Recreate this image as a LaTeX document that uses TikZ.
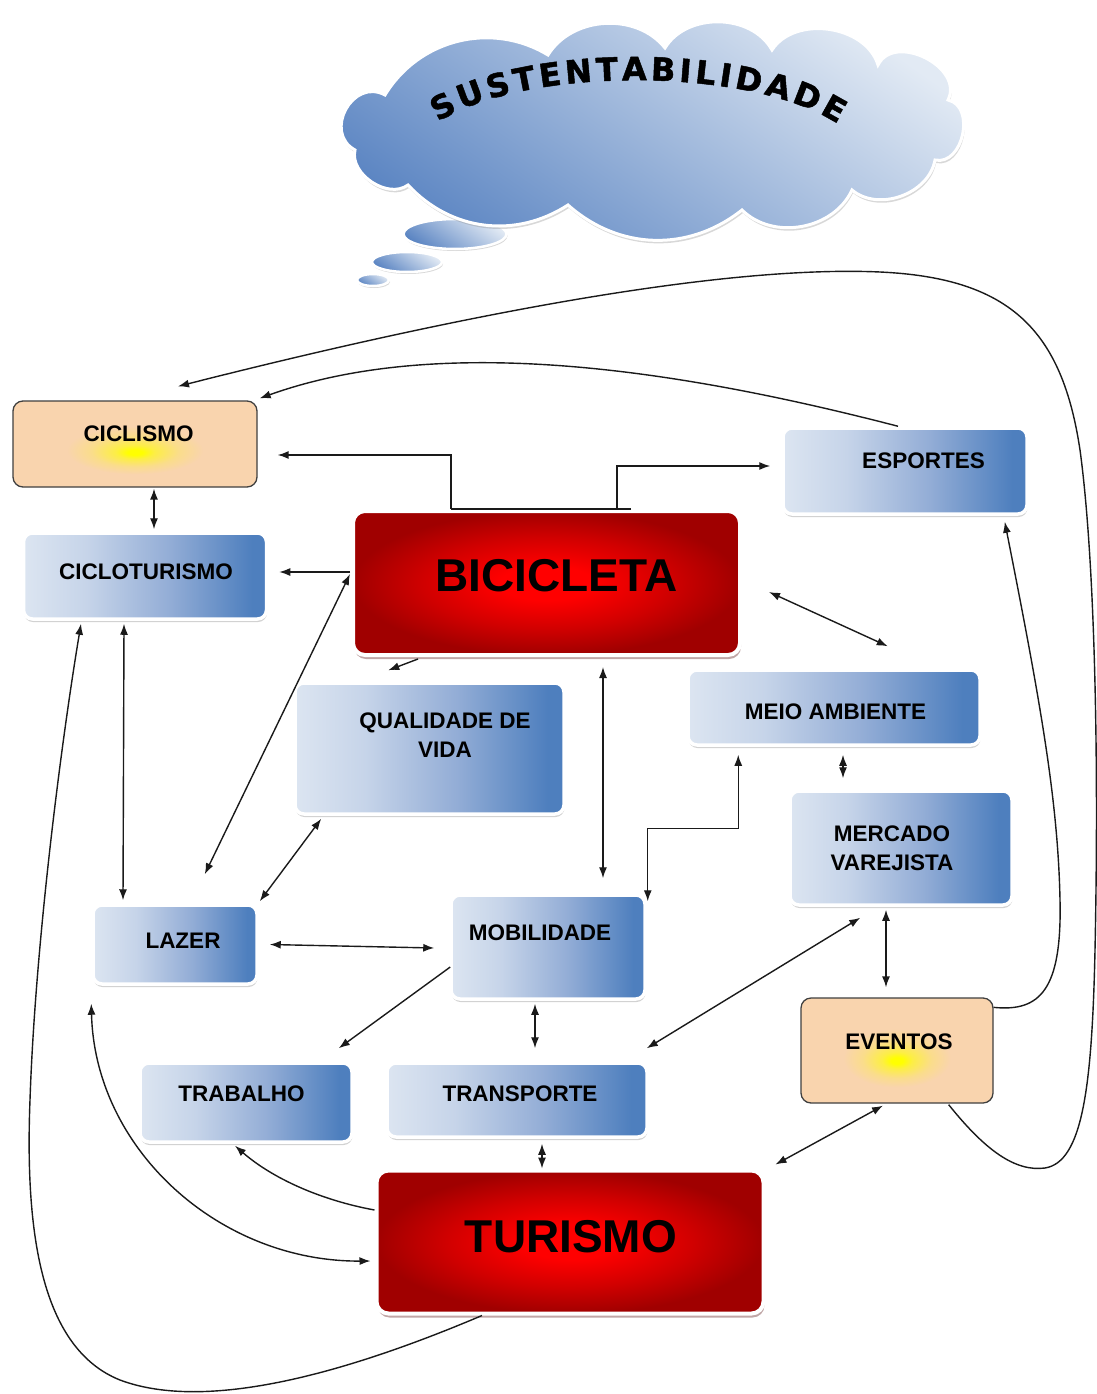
\documentclass[tikz,border=0pt]{standalone}
\usepackage{fontspec}
\setmainfont{Liberation Sans}
\newfontfamily\heavyfont{DejaVu Sans}[BoldFeatures={FakeBold=1.5}]
\usetikzlibrary{arrows.meta,shapes.geometric,shadows,decorations.text,calc}

\definecolor{blueL}{HTML}{DCE5F1}
\definecolor{blueM1}{HTML}{C6D4E9}
\definecolor{blueM2}{HTML}{93ADD6}
\definecolor{blueD}{HTML}{4E7FBE}
\definecolor{redC}{HTML}{FF0000}
\definecolor{redM}{HTML}{D00000}
\definecolor{redD}{HTML}{A00000}
\definecolor{peach}{HTML}{F9D4AE}
\definecolor{yel}{HTML}{FFFF00}
\definecolor{cloudL}{HTML}{E2EAF4}
\definecolor{cloudD}{HTML}{5A84C2}
\definecolor{lineC}{HTML}{1A1A1A}

\pgfdeclarehorizontalshading{bluegrad}{100bp}{color(0bp)=(blueL); color(25bp)=(blueL); color(38bp)=(blueM1); color(55bp)=(blueM2); color(72bp)=(blueD); color(100bp)=(blueD)}
\pgfdeclareradialshading{redglow}{\pgfpoint{0bp}{0bp}}{color(0bp)=(redC); color(6bp)=(redC); color(16bp)=(redM); color(25bp)=(redD); color(50bp)=(redD)}
\pgfdeclareradialshading{orangeglow}{\pgfpoint{0bp}{-5bp}}{color(0bp)=(yel); color(1.5bp)=(yel); color(4bp)=(yel!60!peach); color(9bp)=(yel!20!peach); color(14bp)=(peach); color(50bp)=(peach)}

\tikzset{
  conn/.style={draw=lineC, line width=1.4pt},
  both/.style={conn, {Latex[length=11pt,width=8pt]}-{Latex[length=11pt,width=8pt]}},
  one/.style={conn, -{Latex[length=11pt,width=8pt]}},
  bluebox/.style={rectangle, rounded corners=9pt, draw=white, line width=3.5pt, shade, shading=bluegrad,
    drop shadow={shadow xshift=0.5pt, shadow yshift=-3pt, opacity=0.35}, inner sep=0pt},
  redbox/.style={rectangle, rounded corners=12pt, draw=white, line width=4pt, shade, shading=redglow,
    drop shadow={shadow xshift=1pt, shadow yshift=-4pt, opacity=0.35, fill=red!30!black}, inner sep=0pt},
  orangebox/.style={rectangle, rounded corners=10pt, draw=black!75, line width=1.3pt, shade, shading=orangeglow, inner sep=0pt},
  cloudsty/.style={shade, top color=cloudL, bottom color=cloudD, shading angle=-35, draw=white, line width=3pt,
    drop shadow={shadow xshift=1pt, shadow yshift=-3pt, opacity=0.3}},
  bubble/.style={ellipse, inner sep=0pt, shade, top color=cloudL, bottom color=cloudD, shading angle=-35, draw=white, line width=2.5pt,
    drop shadow={shadow xshift=1pt, shadow yshift=-2pt, opacity=0.3}},
  lbl/.style={font=\bfseries\fontsize{22.5}{29}\selectfont, align=center, inner sep=0pt},
  biglbl/.style={font=\bfseries\fontsize{46}{50}\selectfont, inner sep=0pt},
}

\begin{document}
\begin{tikzpicture}[x=1pt,y=-1pt]
\path[use as bounding box, fill=white] (0,0) rectangle (1097,1394);

% ---- thought cloud ----
\node[bubble, minimum width=32pt, minimum height=12pt] (bub3) at (373,280) {};
\node[bubble, minimum width=70pt, minimum height=20pt] (bub2) at (407,262) {};
\node[bubble, minimum width=103pt, minimum height=30pt] (bub1) at (455,234) {};
\path[cloudsty] (355,150) to[bend left=90,looseness=1.5] (385,95)
  to[bend left=45] (548,55) to[bend left=55] (665,48) to[bend left=60] (772,50)
  to[bend left=65] (878,65) to[bend left=90,looseness=1.2] (948,100)
  to[bend left=90,looseness=1.2] (935,160) to[bend left=60] (852,190)
  to[bend left=55] (742,210) to[bend left=40] (568,205) to[bend left=40] (408,185)
  to[bend left=70] (355,150) -- cycle;
\path[decorate, decoration={text along path, text={|\heavyfont\bfseries\fontsize{32}{32}\selectfont|SUSTENTABILIDADE}, text align={fit to path}}]
  (438,122) .. controls (525,66) and (750,66) .. (838,124);

% ---- boxes ----
\node[orangebox, minimum width=244pt, minimum height=86pt] (ciclismo) at (135,444) {};
\node[bluebox, minimum width=244pt, minimum height=86pt] (esportes) at (905,471) {};
\node[bluebox, minimum width=243pt, minimum height=86pt] (ciclo) at (145,576) {};
\node[redbox, minimum width=387pt, minimum height=144pt] (bic) at (546.5,583) {};
\node[bluebox, minimum width=269pt, minimum height=131pt] (qual) at (429.5,748.5) {};
\node[bluebox, minimum width=292pt, minimum height=75pt] (meio) at (834,707.5) {};
\node[bluebox, minimum width=222pt, minimum height=114pt] (merc) at (901,848) {};
\node[bluebox, minimum width=164pt, minimum height=79pt] (lazer) at (175,944.5) {};
\node[bluebox, minimum width=194pt, minimum height=104pt] (mob) at (548,947) {};
\node[bluebox, minimum width=212pt, minimum height=79pt] (trab) at (246,1102.5) {};
\node[bluebox, minimum width=260pt, minimum height=74pt] (transp) at (517,1100) {};
\node[orangebox, minimum width=192pt, minimum height=105pt] (eventos) at (897,1050.5) {};
\node[redbox, minimum width=387pt, minimum height=143pt] (turismo) at (570,1242) {};

% ---- labels ----
\node[lbl] (t-ciclismo) at (138.5,433.5) {CICLISMO};
\node[lbl] (t-esportes) at (923.5,461) {ESPORTES};
\node[lbl] (t-ciclo) at (146,571.5) {CICLOTURISMO};
\node[biglbl] (t-bic) at (556.5,576) {BICICLETA};
\node[lbl] (t-qual) at (445,735) {QUALIDADE DE\\VIDA};
\node[lbl] (t-meio) at (835.5,712) {MEIO AMBIENTE};
\node[lbl] (t-merc) at (892,848) {MERCADO\\VAREJISTA};
\node[lbl] (t-lazer) at (183,940.5) {LAZER};
\node[lbl] (t-mob) at (540,932.5) {MOBILIDADE};
\node[lbl] (t-trab) at (241.5,1094) {TRABALHO};
\node[lbl] (t-transp) at (520,1094) {TRANSPORTE};
\node[lbl] (t-eventos) at (899,1042) {EVENTOS};
\node[biglbl] (t-turismo) at (571,1237) {TURISMO};

% ---- connectors ----
% eventos -> esportes
\draw[one] ([shift={(0,10)}]eventos.north east) .. controls (1040,1012) and (1062,990) .. (1060,900)
  .. controls (1058,800) and (1040,700) .. ([shift={(-24,6)}]esportes.south east);
% eventos -> ciclismo (outer loop)
\draw[one] ([shift={(-45,1)}]eventos.south east) .. controls (985,1150) and (1015,1172) .. (1045,1168)
  .. controls (1082,1162) and (1092,1090) .. (1095,950)
  .. controls (1099,760) and (1095,560) .. (1080,450)
  .. controls (1062,330) and (1010,278) .. (880,272)
  .. controls (700,264) and (400,330) .. ([shift={(43,-14)}]ciclismo.north);
% esportes -> ciclismo
\draw[one] ([shift={(-7,0)}]esportes.north) .. controls (700,375) and (450,330) .. ([shift={(2,-2)}]ciclismo.north east);
% bicicleta -> ciclismo / esportes (elbows)
\draw[conn] ([shift={(280,0)}]bic.north west) -- ([shift={(100,0)}]bic.north west);
\draw[one] ([shift={(100,0)}]bic.north west) |- ([shift={(20,11)}]ciclismo.east);
\draw[one] ([shift={(266,0)}]bic.north west) |- ([shift={(-11,-5)}]esportes.west);
% bicicleta -> cicloturismo
\draw[one] ([shift={(-1,-11)}]bic.west) -- ([shift={(11,-4)}]ciclo.east);
% ciclismo <-> cicloturismo
\draw[both] ([shift={(19,1)}]ciclismo.south) -- ([shift={(9,-2)}]ciclo.north);
% cicloturismo <-> lazer
\draw[both] ([shift={(-21,3)}]ciclo.south) -- ([shift={(-52,-3)}]lazer.north);
% turismo -> cicloturismo (big left loop)
\draw[one] ([shift={(-88,0)}]turismo.south) .. controls (330,1380) and (200,1410) .. (120,1380)
  .. controls (40,1348) and (25,1230) .. (30,1100)
  .. controls (35,950) and (60,750) .. ([shift={(-64,3)}]ciclo.south);
% lazer <-> bicicleta
\draw[both] ([shift={(-54,-29)}]lazer.north east) -- ([shift={(-1,-9)}]bic.west);
% bicicleta -> qualidade
\draw[one] ([shift={(67,2)}]bic.south west) -- ([shift={(95,-11)}]qual.north west);
% lazer <-> qualidade
\draw[both] ([shift={(1,-2)}]lazer.north east) -- ([shift={(28,3)}]qual.south west);
% bicicleta <-> mobilidade
\draw[both] ([shift={(56.5,10)}]bic.south) -- ([shift={(55,-15)}]mob.north);
% meio ambiente <-> mobilidade
\draw[both] ([shift={(52,8)}]meio.south west) -- ++(0,74) -| ([shift={(1,8)}]mob.north east);
% bicicleta <-> meio ambiente
\draw[both] ([shift={(27,9)}]bic.east) -- ([shift={(-94,-22)}]meio.north east);
% meio ambiente <-> mercado
\draw[both] ([shift={(9,8)}]meio.south) -- ([shift={(-58,-11)}]merc.north);
% mercado <-> eventos
\draw[both] ([shift={(-15,3)}]merc.south) -- ([shift={(-11,-10)}]eventos.north);
% mobilidade <-> transporte
\draw[both] ([shift={(-13,3)}]mob.south) -- ([shift={(18,-13)}]transp.north);
% transporte <-> turismo
\draw[both] ([shift={(25,5)}]transp.south) -- ([shift={(-28,0)}]turismo.north);
% mercado <-> transporte
\draw[both] ([shift={(72,11)}]merc.south west) -- ([shift={(-2,-13)}]transp.north east);
% eventos <-> turismo
\draw[both] ([shift={(-14,2)}]eventos.south) -- ([shift={(10,-4)}]turismo.north east);
% lazer <-> mobilidade
\draw[both] ([shift={(11,0)}]lazer.east) -- ([shift={(-15,1)}]mob.west);
% mobilidade -> trabalho
\draw[one] ([shift={(1,20)}]mob.west) -- ([shift={(-15,-13)}]trab.north east);
% turismo -> trabalho
\draw[one] ([shift={(0,-32)}]turismo.west) .. controls (320,1200) and (272,1178) .. ([shift={(-11,2)}]trab.south);
% lazer <-> turismo
\draw[both] ([shift={(0,18)}]lazer.south west) .. controls (95,1150) and (220,1262) .. ([shift={(-4,19)}]turismo.west);
\end{tikzpicture}
\end{document}
